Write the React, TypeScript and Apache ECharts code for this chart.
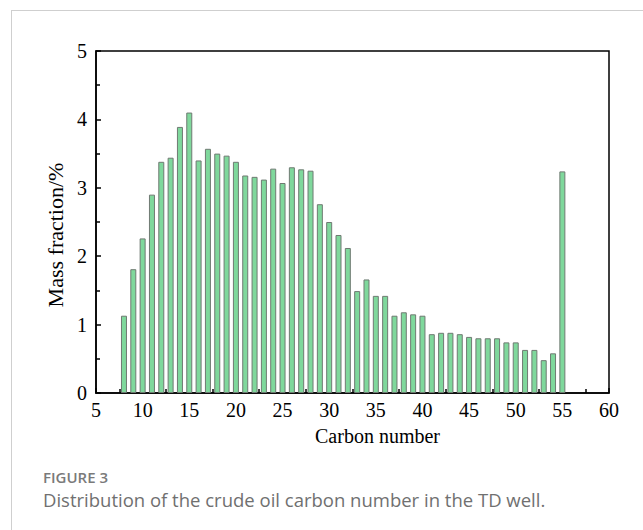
import React, { useEffect, useRef } from "react";
import * as echarts from "echarts";

const carbonNumbers = [
  8, 9, 10, 11, 12, 13, 14, 15, 16, 17, 18, 19, 20, 21, 22, 23, 24, 25, 26, 27, 28, 29, 30, 31,
  32, 33, 34, 35, 36, 37, 38, 39, 40, 41, 42, 43, 44, 45, 46, 47, 48, 49, 50, 51, 52, 53, 54, 55,
];
const massFraction = [
  1.13, 1.81, 2.26, 2.9, 3.38, 3.44, 3.89, 4.1, 3.4, 3.57, 3.5, 3.47, 3.38, 3.18, 3.16, 3.12,
  3.28, 3.07, 3.3, 3.27, 3.25, 2.76, 2.5, 2.31, 2.12, 1.49, 1.66, 1.42, 1.42, 1.13, 1.18, 1.15,
  1.13, 0.86, 0.88, 0.88, 0.86, 0.82, 0.8, 0.8, 0.8, 0.74, 0.74, 0.63, 0.63, 0.48, 0.58, 3.24,
];

const xAxisTitle = "Carbon number";
const yAxisTitle = "Mass fraction/%";
const figureLabel = "FIGURE 3";
const figureCaption = "Distribution of the crude oil carbon number in the TD well.";

export default function App() {
  const ref = useRef<HTMLDivElement>(null);
  useEffect(() => {
    if (!ref.current) return;
    const chart = echarts.init(ref.current, undefined, { renderer: "svg" });
    const serif = "Liberation Serif";
    const data = carbonNumbers.map((c, i) => [c, massFraction[i]]);
    chart.setOption({
      animation: false,
      backgroundColor: "#ffffff",
      grid: {
        left: 96,
        top: 51,
        width: 513,
        height: 342,
        show: true,
        borderColor: "#000",
        borderWidth: 1.5,
        backgroundColor: "transparent",
      },
      xAxis: {
        type: "value",
        min: 5,
        max: 60,
        interval: 5,
        name: xAxisTitle,
        nameLocation: "middle",
        nameGap: 33,
        nameTextStyle: {
          fontFamily: serif,
          fontSize: 20,
          color: "#000",
          padding: [0, 0, 0, 50],
        },
        axisLine: { show: true, lineStyle: { color: "#000", width: 1.5 } },
        axisTick: { show: true, inside: true, length: 5, lineStyle: { color: "#000", width: 1.5 } },
        minorTick: { show: true, splitNumber: 2, length: 4, lineStyle: { color: "#000", width: 1.5 } },
        axisLabel: { fontFamily: serif, fontSize: 20, color: "#000", margin: 7 },
        splitLine: { show: false },
      },
      yAxis: {
        type: "value",
        min: 0,
        max: 5,
        interval: 1,
        name: yAxisTitle,
        nameLocation: "middle",
        nameGap: 30,
        nameTextStyle: {
          fontFamily: serif,
          fontSize: 22,
          color: "#000",
          padding: [0, 26, 0, 0],
        },
        axisLine: { show: true, lineStyle: { color: "#000", width: 1.5 } },
        axisTick: { show: true, inside: true, length: 5, lineStyle: { color: "#000", width: 1.5 } },
        minorTick: { show: true, splitNumber: 2, length: 4, lineStyle: { color: "#000", width: 1.5 } },
        axisLabel: { fontFamily: serif, fontSize: 20, color: "#000", margin: 9 },
        splitLine: { show: false },
      },
      series: [
        {
          type: "bar",
          data,
          barWidth: 6,
          itemStyle: { color: "#7fd89c", borderColor: "#6f7a72", borderWidth: 1 },
        },
      ],
      graphic: [
        {
          type: "line",
          shape: { x1: 11, y1: 10.5, x2: 643, y2: 10.5 },
          style: { stroke: "#cfcfcf", lineWidth: 1 },
        },
        {
          type: "line",
          shape: { x1: 11.5, y1: 10, x2: 11.5, y2: 530 },
          style: { stroke: "#cfcfcf", lineWidth: 1 },
        },
        {
          type: "text",
          x: 43,
          y: 476.5,
          style: {
            text: figureLabel,
            fontFamily: "Open Sans",
            fontSize: 15,
            lineHeight: 15,
            fontWeight: 600,
            fill: "#7a7a7a",
            verticalAlign: "middle",
          },
        },
        {
          type: "text",
          x: 43,
          y: 499,
          style: {
            text: figureCaption,
            fontFamily: "Open Sans",
            fontSize: 18.5,
            lineHeight: 18.5,
            fill: "#707070",
            verticalAlign: "middle",
          },
        },
      ],
    });
    return () => chart.dispose();
  }, []);
  return (
    <div
      ref={ref}
      style={{ position: "absolute", left: 0, top: 0, width: 643, height: 530 }}
    />
  );
}
